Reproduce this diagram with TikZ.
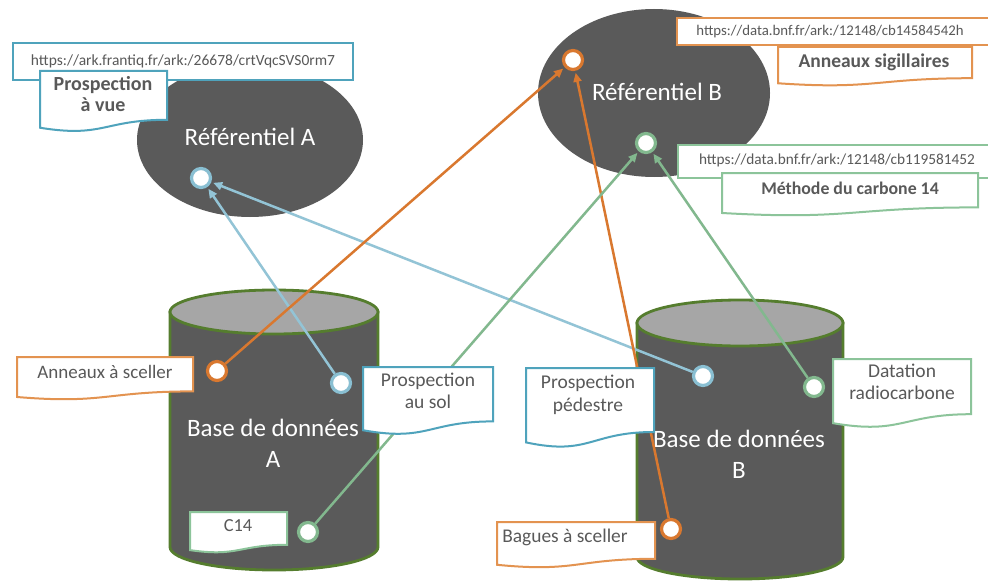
\documentclass[tikz,border=0pt]{standalone}
\usepackage{fontspec}
\setmainfont{Carlito}
\usetikzlibrary{arrows.meta,shapes.geometric}
\definecolor{dkgray}{HTML}{5A5A5A}
\definecolor{topgray}{HTML}{A6A6A6}
\definecolor{cylborder}{HTML}{557D2E}
\definecolor{txtgray}{HTML}{595959}
\definecolor{lineblue}{HTML}{93C4D6}
\definecolor{boxblue}{HTML}{4FA3BC}
\definecolor{lineorange}{HTML}{D9782F}
\definecolor{boxorange}{HTML}{E39350}
\definecolor{linegreen}{HTML}{82B88E}
\definecolor{boxgreen}{HTML}{8CC49A}
\pgfdeclarelayer{bg}
\pgfdeclarelayer{lines}
\pgfsetlayers{bg,lines,main}
\newcommand{\mydoc}[5]{%
  \draw[#5] (#1,#2) -- (#3,#2) -- (#3,{#2+0.80*(#4-#2)})
    .. controls ({(#1+#3)/2},{#2+0.80*(#4-#2)}) and ({(#1+#3)/2},{#2+1.10*(#4-#2)}) ..
    (#1,{#2+0.93*(#4-#2)}) -- cycle;}
\tikzset{
  refell/.style={ellipse, fill=dkgray, inner sep=0pt},
  reftxt/.style={text=white, font=\fontsize{25}{30}\selectfont},
  cyl/.style={draw=cylborder, line width=2.8pt, fill=dkgray},
  cyltop/.style={draw=cylborder, line width=2.8pt, fill=topgray},
  cyltxt/.style={text=white, align=center, font=\fontsize{25}{31}\selectfont},
  dot/.style={circle, fill=white, line width=3.2pt, minimum size=19pt, inner sep=0pt},
  bdot/.style={dot, draw=lineblue!85!boxblue},
  odot/.style={dot, draw=lineorange},
  gdot/.style={dot, draw=linegreen},
  bbox/.style={draw=boxblue, line width=2pt, fill=white},
  obox/.style={draw=boxorange, line width=2pt, fill=white},
  gbox/.style={draw=boxgreen, line width=2pt, fill=white},
  lbl/.style={text=txtgray, align=center, font=\fontsize{19.5}{22.5}\selectfont},
  blbl/.style={text=txtgray, align=center, font=\bfseries\fontsize{19.5}{21}\selectfont},
  url/.style={text=txtgray, font=\fontsize{15}{18}\selectfont},
  barr/.style={draw=lineblue, line width=2.5pt, -{Triangle[length=9pt,width=8pt]}, shorten >=2pt},
  oarr/.style={draw=lineorange, line width=2.5pt, -{Triangle[length=9pt,width=8pt]}, shorten >=2pt},
  garr/.style={draw=linegreen, line width=2.5pt, -{Triangle[length=9pt,width=8pt]}, shorten >=2pt},
}
\begin{document}
\begin{tikzpicture}[x=1pt,y=-1pt]
\useasboundingbox (0,0) rectangle (988,583);
\begin{pgfonlayer}{bg}
\fill[white] (0,0) rectangle (988,583);
% referentials
\node[refell, minimum width=226pt, minimum height=154pt] (refA) at (250,140) {};
\node[refell, minimum width=232pt, minimum height=168pt] (refB) at (654,93) {};
\node[reftxt] (refAtxt) at (250,137) {Référentiel A};
\node[reftxt] (refBtxt) at (657,92) {Référentiel B};
% cylinder A
\path[cyl] (170,312) -- (170,547) arc[start angle=180, end angle=360, x radius=104pt, y radius=23pt] -- (378,312) -- cycle;
\path[cyltop] (274,312) ellipse [x radius=104pt, y radius=22pt];
\node[cyltxt] (dbA) at (273,443) {Base de données\\A};
% cylinder B
\path[cyl] (637,323) -- (637,557) arc[start angle=180, end angle=360, x radius=103pt, y radius=22pt] -- (843,323) -- cycle;
\path[cyltop] (740,323) ellipse [x radius=103pt, y radius=23pt];
\node[cyltxt] (dbB) at (739,454) {Base de données\\B};
\end{pgfonlayer}
% circles
\node[bdot] (cA) at (201,178) {};
\node[odot] (cBo) at (573,60) {};
\node[gdot] (cBg) at (646,143) {};
\node[odot] (aO) at (217,371) {};
\node[bdot] (aB) at (341,383) {};
\node[gdot] (aG) at (308,532) {};
\node[bdot] (bB) at (703,376) {};
\node[gdot] (bG) at (814,387) {};
\node[odot] (bO) at (671,529) {};
% connectors
\begin{pgfonlayer}{lines}
\draw[barr] (aB) -- (cA);
\draw[barr] (bB) -- (cA);
\draw[oarr] (aO) -- (cBo);
\draw[oarr] (bO) -- (cBo);
\draw[garr] (aG) -- (cBg);
\draw[garr] (bG) -- (cBg);
\end{pgfonlayer}
% label boxes
\draw[bbox] (13,43) rectangle (353,80);
\node[url, font=\fontsize{15.5}{18}\selectfont] (uA) at (183,61) {https://ark.frantiq.fr/ark:/26678/crtVqcSVS0rm7};
\mydoc{40}{71}{167}{132}{bbox}
\node[blbl, font=\bfseries\fontsize{20}{21}\selectfont] (pv) at (103,94) {Prospection\\à vue};
\draw[obox] (677,18) rectangle (995,45);
\node[url, font=\fontsize{14.8}{18}\selectfont] (uBo) at (830,32) {https://data.bnf.fr/ark:/12148/cb14584542h};
\mydoc{778}{47}{972}{86}{obox}
\node[blbl] (as) at (874,62) {Anneaux sigillaires};
\draw[gbox] (678,145) rectangle (995,178);
\node[url, font=\fontsize{15.3}{18}\selectfont] (uBg) at (837,160) {https://data.bnf.fr/ark:/12148/cb119581452};
\mydoc{722}{173}{978}{216}{gbox}
\node[blbl, font=\bfseries\fontsize{17.8}{21}\selectfont] (mc) at (850,188) {Méthode du carbone 14};
\mydoc{17}{357}{193}{400}{obox}
\node[lbl, font=\fontsize{19}{22}\selectfont] (las) at (105,372) {Anneaux à sceller};
\mydoc{363}{367}{493}{435}{bbox}
\node[lbl] (lps) at (428,391) {Prospection\\au sol};
\mydoc{190}{512}{287}{553}{gbox}
\node[lbl, font=\fontsize{18.4}{22}\selectfont] (lc) at (238,526) {C14};
\mydoc{526}{368}{654}{448}{bbox}
\node[lbl] (lpp) at (588,395) {Prospection\\pédestre};
\mydoc{833}{359}{971}{428}{gbox}
\node[lbl, font=\fontsize{19.5}{21.5}\selectfont] (ldr) at (902,382) {Datation\\radiocarbone};
\mydoc{497}{522}{655}{568}{obox}
\node[lbl, font=\fontsize{19.4}{22}\selectfont] (lbs) at (565,537) {Bagues à sceller};
\end{tikzpicture}
\end{document}
